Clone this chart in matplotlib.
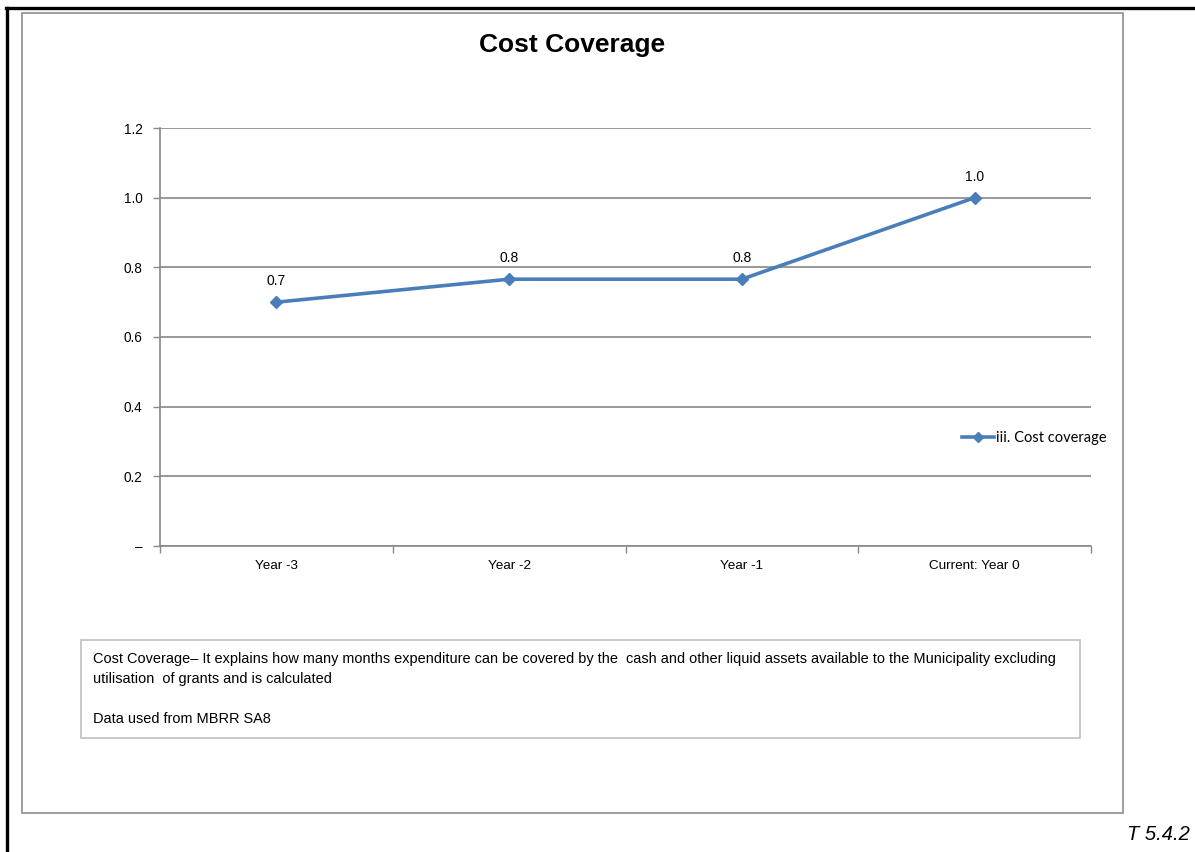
import matplotlib
matplotlib.use("Agg")
import matplotlib.pyplot as plt
from matplotlib.patches import Rectangle
from matplotlib.lines import Line2D

categories = ["Year -3", "Year -2", "Year -1", "Current: Year 0"]
values = [0.70, 0.766, 0.766, 1.0]
value_labels = ["0.7", "0.8", "0.8", "1.0"]
y_ticks = [0.0, 0.2, 0.4, 0.6, 0.8, 1.0, 1.2]
y_tick_labels = ["–", "0.2", "0.4", "0.6", "0.8", "1.0", "1.2"]
series_name = "iii. Cost coverage"
title = "Cost Coverage"
note_lines = [
    "Cost Coverage– It explains how many months expenditure can be covered by the  cash and other liquid assets available to the Municipality excluding",
    "utilisation  of grants and is calculated",
    "",
    "Data used from MBRR SA8",
]
table_ref = "T 5.4.2"

W, H = 1195, 852
plt.rcParams["font.family"] = ["Liberation Sans", "DejaVu Sans"]

fig = plt.figure(figsize=(W / 100, H / 100), dpi=100)

def fx(x):
    return x / W

def fy(y):
    return 1 - y / H

# outer black frame (top and left)
fig.add_artist(Line2D([fx(6), fx(1195)], [fy(8), fy(8)], color="black", lw=2.4, transform=fig.transFigure))
fig.add_artist(Line2D([fx(7), fx(7)], [fy(8), fy(852)], color="black", lw=2.4, transform=fig.transFigure))

# chart area border
fig.add_artist(Rectangle((fx(22), fy(813)), fx(1123 - 22), (813 - 13) / H, fill=False,
                         edgecolor="#8c8c8c", lw=1.2, transform=fig.transFigure))

# axes
ax = fig.add_axes([fx(160), fy(546), fx(1091 - 160), (546 - 128) / H])
xs = list(range(len(categories)))
line_color = "#4A7EBB"
ax.plot(xs, values, color=line_color, lw=2.6, marker="D", markersize=6.5,
        markerfacecolor=line_color, markeredgecolor=line_color, label=series_name, zorder=3)
for x, v, lab in zip(xs, values, value_labels):
    ax.annotate(lab, (x, v), xytext=(0, 15), textcoords="offset points",
                ha="center", va="center", fontsize=10, color="#000000")

ax.set_xlim(-0.5, len(categories) - 0.5)
ax.set_ylim(0, 1.2)
ax.set_yticks(y_ticks)
ax.set_yticklabels(y_tick_labels, fontsize=9.8)
ax.set_xticks(xs)
ax.set_xticklabels(categories, fontsize=9.7)
ax.set_xticks([i - 0.5 for i in range(len(categories) + 1)], minor=True)
ax.tick_params(axis="x", which="major", length=0, pad=10)
ax.tick_params(axis="x", which="minor", length=5, color="#888888", width=1)
ax.tick_params(axis="y", which="major", length=5, color="#888888", width=1, pad=7.5)
ax.grid(axis="y", color="#888888", lw=1.2)
ax.set_axisbelow(True)
for s in ["top", "right"]:
    ax.spines[s].set_visible(False)
for s in ["left", "bottom"]:
    ax.spines[s].set_color("#888888")
    ax.spines[s].set_linewidth(1.2)

# title
fig.text(fx(572), fy(45), title, ha="center", va="center", fontsize=19, fontweight="bold")

# legend
leg = ax.legend(loc="center left", bbox_to_anchor=(fx(955), fy(438)), bbox_transform=fig.transFigure,
                frameon=False, handlelength=2.2, handletextpad=0.1, borderpad=0,
                prop={"family": ["Lato", "DejaVu Sans"], "size": 10.5}, markerscale=0.8)

# note box
fig.add_artist(Rectangle((fx(81), fy(738)), fx(1080 - 81), (738 - 640) / H, fill=False,
                         edgecolor="#bfbfbf", lw=1.2, transform=fig.transFigure))
line_y = [659, 679, 699, 719]
for ly, txt in zip(line_y, note_lines):
    if txt:
        fig.text(fx(93), fy(ly), txt, ha="left", va="center", fontsize=10.42)

fig.text(fx(1190), fy(835), table_ref, ha="right", va="center", fontsize=14.5, style="italic")

fig.savefig("out.png", dpi=100)
